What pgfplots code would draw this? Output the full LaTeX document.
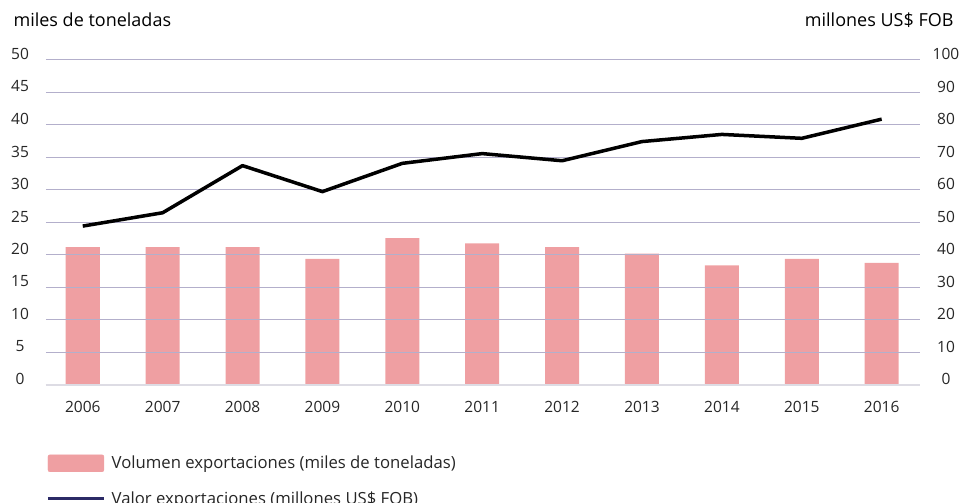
\documentclass[border=0pt]{standalone}
\usepackage{pgfplots}
\pgfplotsset{compat=1.18}
\usepackage{fontspec}
\setmainfont{Open Sans}
\definecolor{barc}{HTML}{EF9FA2}
\definecolor{gridc}{HTML}{B3AFCB}
\definecolor{basec}{HTML}{DDDCE4}
\definecolor{navyc}{HTML}{2B2A66}
\definecolor{txt}{HTML}{262626}
\begin{document}
\begin{tikzpicture}[x=1pt,y=1pt]
\begin{axis}[
  at={(46pt,118pt)}, anchor=south west,
  scale only axis, width=874pt, height=325pt,
  xmin=-0.46, xmax=10.48, ymin=0, ymax=50,
  xtick={0,1,2,3,4,5,6,7,8,9,10},
  xticklabels={2006,2007,2008,2009,2010,2011,2012,2013,2014,2015,2016},
  ytick={0,5,...,50},
  ymajorgrids, grid style={gridc, line width=1pt},
  axis on top,
  axis x line*=bottom, axis y line*=left,
  y axis line style={draw=none},
  x axis line style={basec, line width=2.5pt},
  major tick length=0pt,
  /pgf/number format/assume math mode=true,
  tick label style={font=\fontsize{15.5}{18}\selectfont, text=txt},
  yticklabel style={anchor=center, xshift=-26pt, yshift=6pt},
  xticklabel style={anchor=center, yshift=-22pt},
]
\addplot[ybar, bar width=34pt, fill=barc, draw=none] coordinates {
(0,21.2) (1,21.2) (2,21.2) (3,19.4) (4,22.6) (5,21.8) (6,21.2) (7,20.2) (8,18.4) (9,19.4) (10,18.8)};
\end{axis}
\begin{axis}[
  at={(46pt,118pt)}, anchor=south west,
  scale only axis, width=874pt, height=325pt,
  xmin=-0.46, xmax=10.48, ymin=0, ymax=100,
  axis y line*=right, axis x line=none,
  y axis line style={draw=none},
  ytick={0,10,...,100},
  major tick length=0pt,
  /pgf/number format/assume math mode=true,
  tick label style={font=\fontsize{15.5}{18}\selectfont, text=txt},
  yticklabel style={anchor=center, xshift=26pt, yshift=6pt},
  legend style={at={(0,0)}, anchor=north west, yshift=-69pt, draw=none, fill=none,
    inner sep=0pt, row sep=17pt, font=\fontsize{16.7}{20}\selectfont, text=txt,
    /tikz/every odd column/.append style={column sep=4pt}},
  legend cell align=left,
]
\addlegendimage{legend image code/.code={\fill[barc, rounded corners=2pt] (0pt,-8.5pt) rectangle (56pt,8.5pt);}}
\addlegendentry{Volumen exportaciones (miles de toneladas)}
\addlegendimage{legend image code/.code={\draw[navyc, line width=3.5pt] (0pt,0pt) -- (56pt,0pt);}}
\addlegendentry{Valor exportaciones (millones US\$ FOB)}
\addplot[black, line width=3.5pt, line join=round] coordinates {
(0,48.9) (1,53.0) (2,67.5) (3,59.5) (4,68.2) (5,71.2) (6,69.0) (7,74.9) (8,77.1) (9,75.9) (10,81.8)};
\end{axis}
\node[anchor=base west, font=\fontsize{18}{21}\selectfont, text=black] at (10,476) {miles de toneladas};
\node[anchor=base east, font=\fontsize{18}{21}\selectfont, text=black] at (957,476) {millones US\$ FOB};
\pgfresetboundingbox
\useasboundingbox (0,0) rectangle (961,503);
\end{tikzpicture}
\end{document}
